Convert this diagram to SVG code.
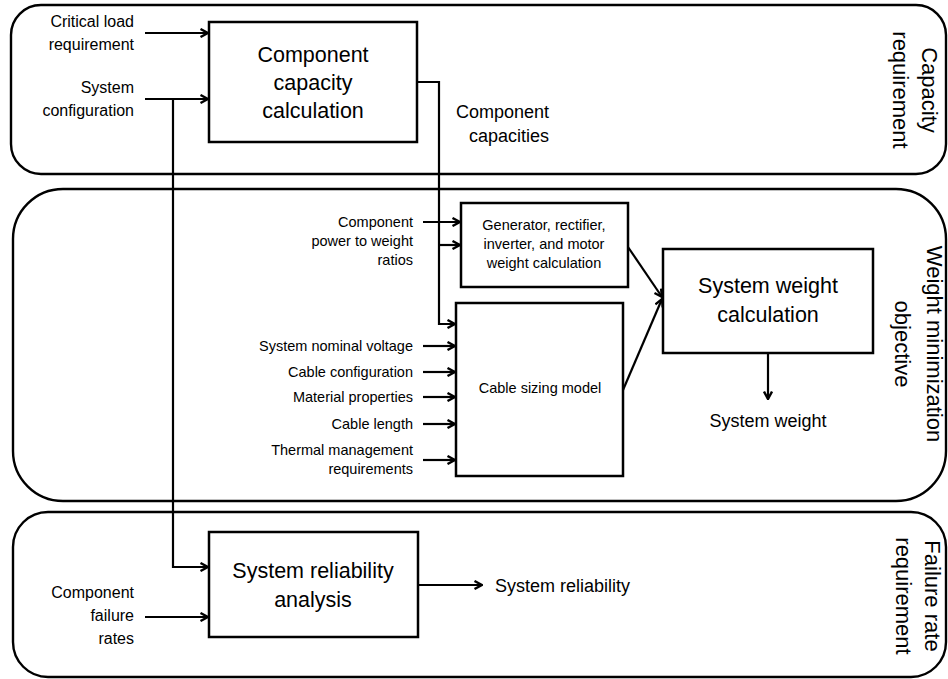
<svg xmlns="http://www.w3.org/2000/svg" width="948" height="679" viewBox="0 0 948 679">
  <defs>
    <marker id="arr" viewBox="0 0 10 10" refX="9" refY="5" markerWidth="10" markerHeight="10" markerUnits="userSpaceOnUse" orient="auto">
      <path d="M1.5,1 L9,5 L1.5,9" fill="none" stroke="#000" stroke-width="2.4" stroke-linejoin="miter"/>
    </marker>
  </defs>
  <style>
    text { font-family: "Liberation Sans", Arial, sans-serif; fill: #000; }
    .lane { fill: none; stroke: #000; stroke-width: 2.4; }
    .box { fill: #fff; stroke: #000; stroke-width: 2.5; }
    .big { font-size: 21.5px; text-anchor: middle; }
    .lbl { font-size: 22px; text-anchor: middle; }
    .in { font-size: 16px; text-anchor: end; }
    .sm { font-size: 14.5px; text-anchor: end; }
    .smc { font-size: 14.5px; text-anchor: middle; }
    .out { font-size: 18px; }
    .wire { fill: none; stroke: #000; stroke-width: 2.2; }
    .arrow { fill: none; stroke: #000; stroke-width: 2.2; marker-end: url(#arr); }
  </style>

  <rect width="948" height="679" fill="#fff"/>

  <!-- swimlanes -->
  <g id="lane-capacity">
    <rect class="lane" x="11" y="5" width="935" height="169" rx="30" ry="30"/>
    <g transform="translate(922,90) rotate(90)"><text class="lbl" x="0" y="0">Capacity</text></g>
    <g transform="translate(893,90) rotate(90)"><text class="lbl" x="0" y="0">requirement</text></g>
  </g>
  <g id="lane-weight">
    <rect class="lane" x="13" y="189" width="933" height="312" rx="50" ry="50"/>
    <g transform="translate(927,344) rotate(90)"><text class="lbl" x="0" y="0">Weight minimization</text></g>
    <g transform="translate(895,344) rotate(90)"><text class="lbl" x="0" y="0">objective</text></g>
  </g>
  <g id="lane-failure">
    <rect class="lane" x="13" y="512" width="933" height="165" rx="35" ry="35"/>
    <g transform="translate(925,596) rotate(90)"><text class="lbl" x="0" y="0">Failure rate</text></g>
    <g transform="translate(896,596) rotate(90)"><text class="lbl" x="0" y="0">requirement</text></g>
  </g>

  <!-- connectors -->
  <g id="connectors">
    <path class="arrow" d="M145,33 H208"/>
    <path class="arrow" d="M145,99 H208"/>
    <path class="arrow" d="M173,99 V567 H208"/>
    <path class="arrow" d="M145,617 H208"/>
    <path class="arrow" d="M418,585 H482"/>
    <path class="wire" d="M417,82 H439 V245"/>
    <path class="arrow" d="M439,245 V324 H455"/>
    <path class="arrow" d="M439,245 H460"/>
    <path class="arrow" d="M423,222 H460"/>
    <path class="arrow" d="M423,346 H455"/>
    <path class="arrow" d="M423,372 H455"/>
    <path class="arrow" d="M423,397 H455"/>
    <path class="arrow" d="M423,424 H455"/>
    <path class="arrow" d="M423,460 H455"/>
    <path class="arrow" d="M628,247 L662,297"/>
    <path class="arrow" d="M623,390 L662,299"/>
    <path class="arrow" d="M768,353 V399"/>
  </g>

  <!-- inputs and outputs -->
  <g id="input-labels">
    <text class="in" x="134" y="27">Critical load</text>
    <text class="in" x="134" y="50">requirement</text>
    <text class="in" x="134" y="93">System</text>
    <text class="in" x="134" y="116">configuration</text>
    <text class="in" x="134" y="598">Component</text>
    <text class="in" x="134" y="621">failure</text>
    <text class="in" x="134" y="644">rates</text>
    <text class="sm" x="413" y="227">Component</text>
    <text class="sm" x="413" y="246">power to weight</text>
    <text class="sm" x="413" y="265">ratios</text>
    <text class="sm" x="413" y="351">System nominal voltage</text>
    <text class="sm" x="413" y="377">Cable configuration</text>
    <text class="sm" x="413" y="402">Material properties</text>
    <text class="sm" x="413" y="429">Cable length</text>
    <text class="sm" x="413" y="455">Thermal management</text>
    <text class="sm" x="413" y="474">requirements</text>
  </g>
  <g id="output-labels">
    <text class="out" x="549" y="118" text-anchor="end">Component</text>
    <text class="out" x="549" y="142" text-anchor="end">capacities</text>
    <text class="out" x="768" y="427" text-anchor="middle">System weight</text>
    <text class="out" x="495" y="592">System reliability</text>
  </g>

  <!-- process blocks -->
  <g id="capacity-calc">
    <rect class="box" x="209" y="22" width="208" height="120"/>
    <text class="big" x="313" y="62">Component</text>
    <text class="big" x="313" y="90">capacity</text>
    <text class="big" x="313" y="118">calculation</text>
  </g>
  <g id="machine-weight">
    <rect class="box" x="461" y="203" width="167" height="84"/>
    <text class="smc" x="544" y="230">Generator, rectifier,</text>
    <text class="smc" x="544" y="249">inverter, and motor</text>
    <text class="smc" x="544" y="268">weight calculation</text>
  </g>
  <g id="cable-sizing">
    <rect class="box" x="456" y="303" width="167" height="173"/>
    <text class="smc" x="540" y="393">Cable sizing model</text>
  </g>
  <g id="system-weight">
    <rect class="box" x="663" y="249" width="210" height="104"/>
    <text class="big" x="768" y="293">System weight</text>
    <text class="big" x="768" y="322">calculation</text>
  </g>
  <g id="reliability">
    <rect class="box" x="209" y="532" width="209" height="105"/>
    <text class="big" x="313" y="578">System reliability</text>
    <text class="big" x="313" y="607">analysis</text>
  </g>
</svg>
